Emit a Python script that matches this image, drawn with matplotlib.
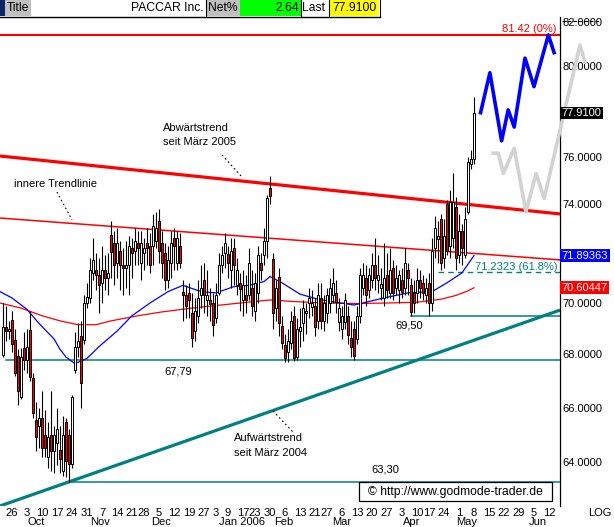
import numpy as np
import matplotlib
matplotlib.use('Agg')
import matplotlib.pyplot as plt
from matplotlib.patches import Rectangle
from matplotlib.ticker import FixedLocator, NullLocator, FuncFormatter

plt.rcParams['font.family'] = ['Liberation Sans', 'DejaVu Sans']

# ------------------------------------------------------------------ data
first_idx = -3  # trading-day index of first candle (0 = 26 Sep 2005)
opens = [67.98, 69.05, 68.9, 69.35, 68.55, 67.95, 66.4, 68.25, 67.8, 68.95, 67.1, 65.55, 65.3,
         65.6, 65.0, 64.2, 65.0, 64.4, 64.7, 64.45, 63.7, 65.45, 65.0, 63.95,
         67.4, 68.3, 68.7, 68.55, 70.0, 70.2, 71.2, 71.3, 71.1, 70.8,
         71.3, 71.0, 72.75, 72.4, 71.6, 72.1, 71.5, 71.4, 71.5, 72.2,
         72.1, 72.4, 71.6, 72.0, 72.4, 72.3, 72.3, 72.5, 73.3, 72.4,
         72.0, 70.9, 71.6, 72.6, 71.6, 72.3, 70.45, 70.3, 70.4, 69.6,
         68.9, 69.5, 70.3, 70.9, 70.1, 70.1, 70.0, 69.4, 70.4, 71.5,
         72.0, 71.95, 71.3, 72.2, 70.7, 70.8, 70.1, 70.3, 70.3, 70.6,
         69.7, 70.4, 71.6, 71.9, 72.5, 74.7, 71.75, 69.8, 71.05, 69.1,
         68.35, 68.1, 68.45, 69.5, 67.9, 68.9, 69.2, 69.6, 70.0, 69.85,
         69.9, 69.3, 70.2, 69.3, 69.6, 70.0, 70.3, 70.4, 69.25, 69.0,
         69.25, 69.5, 68.65, 69.0, 68.6, 69.5, 70.6, 71.0, 70.5, 70.9,
         71.5, 70.9, 70.6, 70.2, 71.1, 70.4, 71.4, 70.6, 70.5, 70.9,
         70.6, 71.3, 70.7, 70.4, 70.4, 70.9, 70.8, 70.3, 70.8, 70.0,
         72.2, 72.55, 73.4, 71.8, 74.0, 72.3, 72.6, 73.9, 71.9, 72.9,
         71.9, 73.7, 75.7, 75.9]
highs = [70.0, 69.9, 69.3, 69.7, 69.0, 68.2, 68.25, 68.85, 69.0, 69.7, 67.3, 66.2, 66.0,
         66.6, 65.9, 65.45, 66.6, 65.3, 66.0, 65.3, 65.7, 65.6, 65.2, 66.45,
         68.85, 69.2, 69.3, 70.3, 70.8, 71.8, 72.6, 72.0, 71.8, 72.3,
         71.9, 72.0, 73.3, 72.9, 73.0, 72.5, 72.2, 72.5, 72.7, 72.6,
         73.0, 72.9, 72.9, 72.6, 73.0, 72.8, 73.6, 73.7, 73.8, 72.9,
         72.4, 72.3, 72.9, 73.0, 72.9, 72.8, 70.9, 70.7, 70.8, 70.4,
         70.2, 70.9, 71.5, 71.6, 71.3, 70.6, 70.4, 70.8, 72.0, 72.3,
         72.8, 72.3, 72.6, 72.6, 71.8, 71.2, 71.3, 71.1, 72.2, 71.3,
         71.2, 72.3, 72.0, 73.0, 74.4, 75.2, 72.0, 70.9, 71.4, 69.5,
         68.8, 69.0, 69.7, 69.9, 69.4, 69.8, 70.1, 70.0, 70.6, 70.5,
         70.2, 70.8, 70.8, 70.3, 70.6, 71.0, 71.4, 70.9, 70.2, 69.9,
         70.4, 69.9, 69.3, 69.3, 69.9, 71.4, 71.6, 71.5, 71.4, 72.0,
         72.6, 71.9, 71.4, 72.4, 72.0, 72.2, 71.7, 71.5, 71.3, 71.4,
         72.2, 71.6, 71.0, 70.9, 71.4, 71.3, 71.1, 71.0, 71.2, 72.6,
         73.5, 73.3, 73.6, 73.4, 74.2, 74.6, 75.3, 74.3, 73.6, 73.2,
         73.9, 76.0, 76.3, 78.6]
lows = [67.9, 68.5, 68.6, 68.1, 67.2, 66.1, 66.3, 67.4, 67.3, 67.0, 65.6, 64.4, 64.5,
        64.2, 64.2, 63.8, 63.7, 63.6, 63.9, 63.6, 63.5, 63.45, 63.3, 63.8,
        67.3, 67.9, 66.0, 68.4, 69.8, 70.0, 70.9, 70.5, 69.6, 70.0,
        70.5, 70.3, 71.0, 70.7, 71.0, 70.5, 70.3, 70.6, 70.3, 71.0,
        71.5, 71.5, 70.9, 71.3, 71.5, 71.2, 71.5, 72.2, 71.6, 71.0,
        70.5, 70.6, 71.0, 71.3, 71.3, 71.4, 69.3, 69.4, 69.4, 68.3,
        68.5, 69.2, 69.8, 69.6, 69.5, 69.3, 68.7, 69.2, 70.3, 71.2,
        71.4, 71.0, 70.6, 70.7, 70.3, 69.7, 69.5, 69.6, 70.1, 69.5,
        69.3, 70.0, 70.9, 71.5, 71.8, 74.0, 69.0, 69.3, 68.7, 68.2,
        67.7, 67.7, 68.2, 67.75, 67.8, 68.3, 68.5, 68.8, 69.4, 69.5,
        68.7, 69.0, 69.0, 68.9, 69.2, 69.6, 70.0, 69.6, 68.9, 68.6,
        69.0, 68.4, 67.9, 67.79, 68.4, 69.2, 70.3, 69.9, 70.2, 70.6,
        70.5, 70.4, 70.1, 69.9, 70.2, 70.2, 70.1, 70.3, 70.0, 70.2,
        70.3, 70.3, 69.5, 69.6, 70.0, 70.2, 70.1, 70.0, 69.5, 69.7,
        71.8, 71.6, 71.3, 71.4, 71.9, 71.8, 72.2, 71.3, 71.6, 71.5,
        71.8, 73.6, 75.5, 75.7]
closes = [69.05, 68.9, 69.0, 68.4, 67.3, 66.6, 67.9, 67.8, 68.3, 67.15, 65.8, 64.9, 65.6,
          64.5, 64.5, 64.9, 64.4, 65.0, 65.2, 64.1, 65.0, 64.05, 63.95, 66.4,
          68.3, 68.5, 66.9, 70.0, 70.25, 71.3, 71.7, 71.1, 70.7, 71.3,
          71.0, 71.2, 72.05, 71.5, 72.4, 71.5, 71.4, 71.5, 72.3, 72.0,
          72.5, 72.2, 72.4, 72.2, 72.2, 71.5, 73.1, 73.0, 72.1, 71.6,
          70.9, 71.7, 72.4, 72.3, 72.6, 71.6, 70.3, 69.9, 70.1, 68.65,
          69.7, 70.2, 70.6, 70.3, 70.3, 69.95, 69.15, 70.3, 71.5, 71.9,
          72.4, 71.6, 72.1, 71.5, 71.3, 70.55, 70.7, 70.1, 71.6, 69.9,
          70.8, 71.9, 71.3, 72.5, 74.25, 74.35, 69.6, 70.6, 69.2, 68.45,
          67.85, 68.5, 69.3, 67.85, 69.0, 69.05, 69.8, 69.7, 70.2, 70.0,
          69.05, 70.3, 69.3, 70.0, 70.3, 70.6, 70.8, 70.05, 69.8, 69.5,
          70.1, 68.75, 68.3, 67.95, 69.5, 71.1, 71.1, 70.3, 71.1, 71.5,
          71.0, 71.1, 70.75, 71.0, 70.5, 71.3, 70.4, 71.0, 71.1, 70.45,
          71.6, 71.0, 69.65, 70.0, 70.9, 70.6, 70.4, 70.6, 70.0, 72.1,
          73.0, 72.7, 71.6, 72.7, 72.1, 74.1, 74.1, 71.8, 72.9, 72.2,
          73.4, 75.8, 75.9, 77.91]

# moving averages (read at sample trading-day indices)
ma_blue_idx = [-4, 0, 5, 9, 14, 16, 18, 21, 25, 29, 35, 40, 46, 52, 57, 63, 68, 74, 79, 84,
               86, 90, 96, 102, 107, 114, 124, 132, 140, 145, 150, 154]
ma_blue_val = [70.45, 70.2, 69.75, 69.2, 68.6, 68.2, 67.9, 67.65, 67.85, 68.3, 68.9, 69.5, 70.0,
               70.45, 70.7, 70.45, 70.4, 70.65, 70.7, 70.85, 71.05, 70.8, 70.35, 70.15, 70.05,
               69.92, 70.2, 70.4, 70.45, 70.8, 71.2, 71.89363]
ma_red_idx = [-4, 3, 10, 16, 22, 28, 33, 42, 50, 60, 72, 80, 86, 95, 105, 115, 125, 135, 143,
              148, 152, 154]
ma_red_val = [70.0, 69.8, 69.5, 69.3, 69.15, 69.15, 69.3, 69.5, 69.65, 69.8, 69.95, 70.05, 70.12,
              70.05, 70.0, 69.98, 70.0, 70.03, 70.15, 70.3, 70.48, 70.60447]

# trend lines (endpoints: index, price)
down_idx, down_val = [-4, 182.67], [76.04, 73.6]
inner_idx, inner_val = [-4, 182.67], [73.43, 71.72]
up_idx, up_val = [-4, 182.67], [62.44, 69.72]

# horizontal levels: (price, start index)
level_vals = [67.79, 69.50, 63.30]
level_start = [-2, 133, 19]
fib_val, fib_start = 71.2323, 142
top_val = 81.42

# projections
proj_blue_idx = [156.2, 159.3, 163.2, 165.4, 167.4, 171.0, 174.0, 178.8, 180.7]
proj_blue_val = [77.92, 79.69, 76.69, 78.04, 77.29, 80.35, 79.07, 81.40, 80.60]
proj_grey_idx = [160.4, 162.1, 163.8, 167.4, 171.3, 174.7, 177.4, 189.3, 191.0]
proj_grey_val = [76.16, 76.16, 75.3, 76.37, 73.69, 75.3, 74.25, 80.94, 80.17]

# axis labels
day_labels = ['26', '3', '10', '17', '24', '31', '7', '14', '21', '28', '5', '12', '19', '27',
              '3', '9', '17', '23', '30', '6', '13', '21', '27', '6', '13', '20', '27',
              '3', '10', '17', '24', '1', '8', '15', '22', '29', '5', '12']
day_pos = [0, 5, 10, 15, 20, 25, 30, 35, 40, 44, 49, 54, 59, 64, 68, 72, 77, 81, 86, 91, 96,
           101, 105, 110, 115, 120, 125, 130, 135, 139, 144, 149, 154, 159, 164, 169, 174, 179]
month_labels = ['Oct', 'Nov', 'Dec', 'Jan 2006', 'Feb', 'Mar', 'Apr', 'May', 'Jun']
y_ticks = [64, 66, 68, 70, 74, 76, 80, 82]

# ------------------------------------------------------------------ layout
W, H = 614, 527
month_pos = [8.2, 29.3, 49.7, 76.7, 90.7, 110.0, 133.3, 151.7, 175.3]
TEAL = '#008080'
FS = 8

fig = plt.figure(figsize=(W / 100, H / 100), dpi=100)
fig.patch.set_facecolor('white')
ax = fig.add_axes([0, 21 / H, 560 / W, 489 / H])
ax.set_yscale('log')
ax.set_ylim(82 * np.exp(-484 / 1776), 82 * np.exp(5 / 1776))
ax.set_xlim(-4, 182.67)
for s in ['top', 'left', 'bottom']:
    ax.spines[s].set_visible(False)
ax.spines['right'].set_linewidth(0.9)

ax.yaxis.tick_right()
ax.yaxis.set_major_locator(FixedLocator(y_ticks))
ax.yaxis.set_minor_locator(NullLocator())
ax.yaxis.set_major_formatter(FuncFormatter(lambda v, p: f'{v:.4f}'))
ax.tick_params(axis='y', length=0, pad=1.5, labelsize=FS)
ax.set_xticks(day_pos)
ax.set_xticklabels(day_labels)
ax.xaxis.set_minor_locator(NullLocator())
ax.tick_params(axis='x', length=0, pad=1.5, labelsize=FS)
for p, m in zip(month_pos, month_labels):
    ax.text(p, -0.033, m, transform=ax.get_xaxis_transform(), ha='center', va='center',
            fontsize=FS)

# trend lines
ax.plot(up_idx, up_val, color=TEAL, lw=2.3, zorder=2, solid_capstyle='butt')
ax.plot(down_idx, down_val, color='#ff0000', lw=2.3, zorder=2, solid_capstyle='butt')
ax.plot(inner_idx, inner_val, color='#ff0000', lw=1.1, zorder=2)
for v, s in zip(level_vals, level_start):
    ax.plot([s, 182.67], [v, v], color=TEAL, lw=1.1, zorder=2)
ax.plot([fib_start, 182.67], [fib_val, fib_val], color=TEAL, lw=1.0, ls=(0, (4, 3)), zorder=2)
ax.plot([-4, 182.67], [top_val, top_val], color='#ff0000', lw=1.5, zorder=2)

# moving averages
ax.plot(ma_red_idx, ma_red_val, color='#ff0000', lw=0.9, zorder=3)
ax.plot(ma_blue_idx, ma_blue_val, color='#0000ff', lw=0.9, zorder=3)

# candles
x = np.arange(first_idx, first_idx + len(opens))
o, h, l, c = map(np.array, (opens, highs, lows, closes))
bot = np.minimum(o, c)
hgt = np.maximum(np.abs(c - o), 0.03)
cols = np.where(c >= o, 'white', '#ff0000')
ax.vlines(x, l, h, color='black', lw=0.8, zorder=5)
ax.bar(x, hgt, bottom=bot, width=0.8, color=cols, edgecolor='black', linewidth=0.7, zorder=6)

# projections
ax.plot(proj_grey_idx, proj_grey_val, color='#d2d2d2', lw=2.6, zorder=4, clip_on=False)
ax.plot(proj_blue_idx, proj_blue_val, color='#0000ff', lw=2.6, zorder=4)

# value boxes on right axis
yt = ax.get_yaxis_transform()
for val, txt, bg in [(77.91, '77.9100', 'black'), (71.89363, '71.89363', '#0000ff'),
                     (70.60447, '70.60447', '#ff0000')]:
    ax.text(1.003, val, txt, transform=yt, ha='left', va='center', color='white',
            fontsize=FS, zorder=10, clip_on=False,
            bbox=dict(boxstyle='square,pad=0.12', fc=bg, ec='none'))

# ------------------------------------------------------------------ overlay (pixels)
ov = fig.add_axes([0, 0, 1, 1], zorder=20)
ov.set_xlim(0, W)
ov.set_ylim(H, 0)
ov.set_axis_off()
ov.patch.set_visible(False)

# title bar
for x0, x1, col in [(0, 5, '#0a246a'), (5, 31, '#c0c0c0'), (31, 206, 'white'),
                    (206, 240, '#c0c0c0'), (240, 301, '#00ff00'), (301, 329, 'white'),
                    (329, 379, '#ffff00')]:
    ov.add_patch(Rectangle((x0, 0), x1 - x0, 16, fc=col, ec='none'))
ov.plot([0, 380], [16.5, 16.5], color='black', lw=1)
for xs in [206, 301, 329, 379.5]:
    ov.plot([xs, xs], [0, 16.5], color='black', lw=0.8)
tb = dict(fontsize=8.7, va='center')
ov.text(7, 8, 'Title', ha='left', **tb)
ov.text(204, 8, 'PACCAR Inc.', ha='right', **tb)
ov.text(208, 8, 'Net%', ha='left', **tb)
ov.text(299, 8, '2.64', ha='right', **tb)
ov.text(302, 8, 'Last', ha='left', **tb)
ov.text(377, 8, '77.9100', ha='right', **tb)
ov.plot([562, 600], [21, 21], color='black', lw=0.8, ls=(0, (3, 2)))

# annotations
ann = dict(fontsize=FS, va='center')
ov.text(163, 128, 'Abwärtstrend', ha='left', **ann)
ov.text(163, 142, 'seit März 2005', ha='left', **ann)
ov.plot([222, 242], [155, 177], color='black', lw=0.8, ls=(0, (1.5, 2.5)))
ov.text(14, 184, 'innere Trendlinie', ha='left', **ann)
ov.plot([57, 72], [192, 220], color='black', lw=0.8, ls=(0, (1.5, 2.5)))
ov.text(234, 438, 'Aufwärtstrend', ha='left', **ann)
ov.text(234, 453, 'seit März 2004', ha='left', **ann)
ov.plot([273, 293], [411, 432], color='black', lw=0.8, ls=(0, (1.5, 2.5)))
ov.text(178, 371, '67,79', ha='center', **ann)
ov.text(409, 326, '69,50', ha='center', **ann)
ov.text(385, 469, '63,30', ha='center', **ann)
ov.text(558, 267, '71.2323 (61.8%)', ha='right', color=TEAL, **ann)
ov.text(557, 29, '81.42 (0%)', ha='right', color='#ff0000', **ann)

# copyright box & LOG
ov.add_patch(Rectangle((359, 482), 193, 19, fc='white', ec='black', lw=0.9))
ov.text(455.5, 491.5, '\u00a9 http://www.godmode-trader.de', ha='center', va='center', fontsize=8.7)
ov.text(600, 513, 'LOG', ha='center', va='center', fontsize=FS)

fig.savefig('out.png', dpi=100, facecolor='white')
